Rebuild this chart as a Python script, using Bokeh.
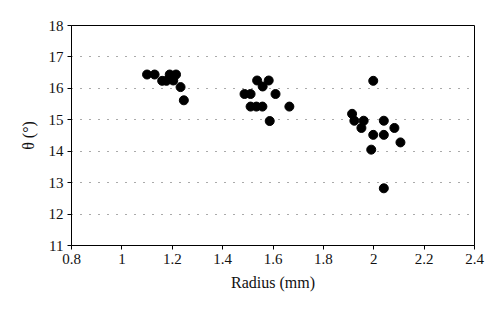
from bokeh.plotting import figure
from bokeh.models import FixedTicker, Range1d
from bokeh.embed import file_html
from bokeh.resources import INLINE

radius = [1.10, 1.13, 1.19, 1.215, 1.16, 1.177, 1.204, 1.233, 1.246,
          1.537, 1.583, 1.559, 1.487, 1.511, 1.61, 1.511, 1.534, 1.558, 1.665, 1.587,
          1.998, 1.914, 1.923, 1.96, 1.951, 2.04, 2.082, 1.998, 2.04, 2.106, 1.99, 2.04]
theta = [16.44, 16.44, 16.44, 16.44, 16.24, 16.24, 16.25, 16.04, 15.62,
         16.25, 16.25, 16.06, 15.82, 15.82, 15.82, 15.42, 15.42, 15.42, 15.42, 14.96,
         16.24, 15.19, 14.97, 14.97, 14.74, 14.97, 14.74, 14.52, 14.52, 14.28, 14.05, 12.82]

x_ticks = [0.8, 1.0, 1.2, 1.4, 1.6, 1.8, 2.0, 2.2, 2.4]
x_labels = ["0.8", "1", "1.2", "1.4", "1.6", "1.8", "2", "2.2", "2.4"]
y_ticks = [11, 12, 13, 14, 15, 16, 17, 18]

FONT = "Liberation Serif"

p = figure(width=500, height=313, output_backend="svg", toolbar_location=None,
           x_range=Range1d(0.8, 2.4), y_range=Range1d(11, 18),
           min_border_left=71, min_border_right=26, min_border_top=25, min_border_bottom=68,
           background_fill_color="white", border_fill_color="white")

p.scatter(radius, theta, size=9, color="black")

p.outline_line_color = "black"
p.outline_line_width = 1

p.xaxis.ticker = FixedTicker(ticks=x_ticks)
p.xaxis.major_label_overrides = {t: l for t, l in zip(x_ticks, x_labels)}
p.yaxis.ticker = FixedTicker(ticks=y_ticks)
p.xaxis.axis_label = "Radius (mm)"
p.yaxis.axis_label = "θ (°)"

for ax in (p.xaxis, p.yaxis):
    ax.axis_line_color = "black"
    ax.major_tick_line_color = "black"
    ax.minor_tick_line_color = None
    ax.major_tick_in = 0
    ax.major_tick_out = 4
    ax.major_label_text_font = FONT
    ax.major_label_text_font_size = "15px"
    ax.major_label_text_color = "#111111"
    ax.axis_label_text_font = FONT
    ax.axis_label_text_font_size = "16px"
    ax.axis_label_text_font_style = "normal"
    ax.axis_label_text_color = "#111111"

p.xaxis.major_label_standoff = 4
p.xaxis.axis_label_standoff = 7
p.yaxis.major_label_standoff = 4
p.yaxis.axis_label_standoff = 9

p.xgrid.grid_line_color = None
p.ygrid.ticker = FixedTicker(ticks=[12, 13, 14, 15, 16, 17])
p.ygrid.grid_line_color = "#555555"
p.ygrid.grid_line_dash = "1 8"
p.ygrid.grid_line_width = 1

open("out.html", "w").write(file_html(p, INLINE))
